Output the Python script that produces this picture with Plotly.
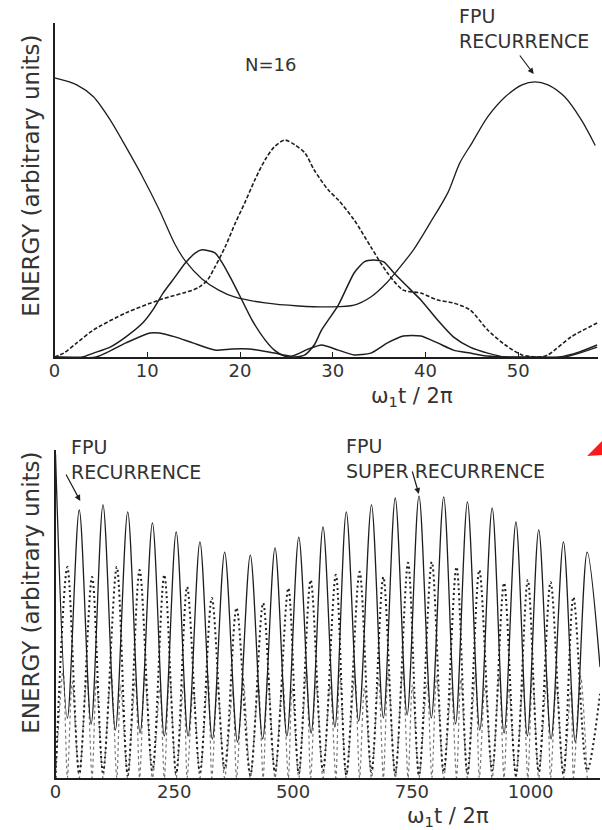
import plotly.graph_objects as go

# ---------------- upper panel: N = 16, first recurrence ----------------
mode1_t = [0, 2.4, 4.2, 6.0, 7.7, 9.5, 11.3, 13.0, 14.1, 15.9, 17.7, 19.4, 22.7, 26.3, 29.8,
           32.3, 34.1, 35.9, 37.0, 38.7, 40.5, 42.4, 43.7, 45.0, 46.7, 48.6, 50.4, 51.8,
           53.2, 55.0, 56.8, 58.3]
mode1_e = [93, 90.7, 86.7, 79, 70, 60, 49, 37.5, 32, 26, 22.3, 20, 18, 17, 16.7,
           17.3, 20, 25, 29, 35.7, 44.7, 54.7, 64.7, 71.3, 80, 86.7, 90.7, 91.7,
           90.7, 86.7, 79, 70.5]

mode2_t = [0, 1.0, 2.4, 4.2, 7.7, 11.3, 14.9, 15.6, 16.5, 17.3, 18.4, 19.5, 20.5, 21.6, 22.7,
           23.7, 24.8, 25.9, 27.0, 28.0, 29.5, 30.6, 32.3, 34.1, 35.9, 37.6, 39.5, 41.3,
           43.0, 44.8, 46.7, 48.6, 50.4, 52.3, 53.2, 55.7, 58.5]
mode2_e = [0, 1.3, 4.7, 9, 14.7, 19, 22.3, 23.3, 25.7, 30, 36.7, 44.7, 51.3, 59, 65.7,
           70, 72.3, 70.7, 68, 62.3, 55.7, 52.3, 45.7, 36.7, 28, 22.3, 21.3, 19,
           18, 15.7, 9, 4, 0.7, 0, 0.7, 6.7, 11.3]

mode3_t = [0, 3.0, 4.2, 6.0, 7.7, 9.5, 10.6, 11.7, 13.0, 14.1, 15.2, 15.9, 17.3, 18.1, 19.1,
           20.2, 21.3, 22.7, 23.7, 24.8, 25.9, 27.0, 28.0, 28.8, 30.6, 32.3, 33.4, 34.4,
           35.5, 36.6, 38.1, 39.5, 41.3, 43.0, 44.8, 46.7, 48.6, 52.0, 54.4, 56.6, 58.5]
mode3_e = [0, 0, 1.3, 3.3, 6.7, 11.3, 15.7, 21.3, 26.7, 31.3, 34.7, 35.7, 34.7, 31.3, 25.7,
           19, 12.3, 5.7, 2.3, 0.3, 0, 0.7, 4, 9, 17.3, 28, 31.7, 32.3,
           31.7, 28, 23.3, 19, 12.3, 6.7, 3.3, 1.3, 0, 0, 0, 1.7, 4]

mode4_t = [0, 4.5, 7.7, 10.3, 11.3, 13.0, 14.9, 17.3, 19.1, 21.0, 23.7, 25.6, 27.4, 28.8,
           30.6, 32.3, 34.1, 35.9, 37.6, 39.5, 41.3, 43.0, 44.8, 46.7, 48.6, 55.0, 58.5]
mode4_e = [0, 0, 4.7, 8, 8, 6.7, 4.7, 2.3, 2.7, 2.7, 1.3, 0.3, 2.7, 4,
           2.3, 0.7, 1.3, 4.7, 7, 7, 4.7, 2.3, 1.3, 0.3, 0, 0, 3.3]

top_ticks = [0, 10, 20, 30, 40, 50]

# ---------------- lower panel: long run, super recurrence ----------------
m1_start = (0, 108)
m1_end = (1146, 37)
m1_peak_t = [50, 100, 152, 204, 254, 304, 356, 410, 462, 512, 563, 612, 665, 715, 765,
             817, 867, 919, 969, 1017, 1069, 1119]
m1_peak_e = [89.3, 91, 88.7, 85, 82, 78.7, 75.3, 74.3, 76.7, 80.3, 83.7, 88.7, 91, 93.3, 94,
             93.7, 92, 90, 85.3, 82.7, 78.7, 75.3]
m1_low_t = [25, 75, 126, 178, 229, 279, 330, 383, 436, 487, 538, 588, 638, 690, 740,
            791, 842, 893, 944, 993, 1043, 1094]
m1_low_e = [20, 18, 16, 15, 14, 14, 13, 12, 13, 14, 15, 17, 19, 20, 21,
            20, 18, 16, 15, 14, 13, 12]

m2_peak_t = [25, 77, 129, 177, 229, 277, 329, 381, 437, 490, 537, 590, 640, 690, 742,
             792, 844, 892, 944, 994, 1042, 1090]
m2_peak_e = [70.3, 67, 70.3, 69.3, 67.7, 63.7, 60, 56.7, 58.3, 63.3, 66, 67.7, 68.7, 67, 71.7,
             72, 70.3, 69.3, 65, 66, 65.3, 60.3]
m2_low_e = [1.5, 2, 1, 2.5, 1.5, 2, 3, 1, 2, 1.5, 2.5, 1, 2, 1.5, 1,
            2, 1.5, 2.5, 1, 2, 1.5, 2.5]
m2_end = (1146, 28)

m3_peak_t = [16, 35, 66, 86, 117, 137, 168, 188, 220, 240, 270, 290, 321, 341, 373,
             395, 427, 447, 478, 498, 528, 548, 578, 598, 630, 650, 680, 700, 731, 751,
             782, 802, 833, 853, 884, 904, 934, 954, 984, 1004, 1034, 1054, 1085, 1105]
m3_peak_e = [36, 32, 34, 33, 35, 31, 33, 34, 30, 35, 32, 30, 34, 31, 29,
             33, 31, 35, 33, 30, 35, 32, 31, 36, 34, 30, 33, 35, 36, 31,
             32, 34, 30, 33, 35, 31, 34, 30, 32, 35, 33, 31, 30, 34]

bottom_ticks = [0, 250, 500, 750, 1000]

# ---------------- build series ----------------
lo_m1 = sorted([m1_start, m1_end] + list(zip(m1_peak_t, m1_peak_e)) + list(zip(m1_low_t, m1_low_e)))
lo_m2 = sorted([(0, 0), m2_end] + list(zip(m2_peak_t, m2_peak_e)) + list(zip(m1_peak_t, m2_low_e)))
lo_m3 = sorted([(0, 0)] + list(zip(m3_peak_t, m3_peak_e))
               + [(t, 0) for t in m1_peak_t] + [(t, 0) for t in m2_peak_t])

INK = "#1e1e1e"
TXT = "#333333"
FONT = "DejaVu Sans"
W, H = 602, 830


def fx(p):
    return p / W


def fy(p):
    return 1 - p / H


def label(text, x, y, size=20, xanchor="center", angle=0):
    return dict(text=text, x=fx(x), y=fy(y), xref="paper", yref="paper",
                xanchor=xanchor, yanchor="middle", textangle=angle, showarrow=False,
                align="left", font=dict(family=FONT, size=size, color=TXT))


def pointer(x_tip, y_tip, x_tail, y_tail):
    return dict(text="", x=fx(x_tip), y=fy(y_tip), xref="paper", yref="paper",
                ax=x_tail - x_tip, ay=y_tail - y_tip, showarrow=True,
                arrowhead=2, arrowsize=1, arrowwidth=1.2, arrowcolor=INK)


fig = go.Figure()

# upper panel curves
fig.add_trace(go.Scatter(x=mode1_t, y=mode1_e, mode="lines", xaxis="x", yaxis="y",
                         line=dict(color=INK, width=1.3, shape="spline", smoothing=0.8)))
fig.add_trace(go.Scatter(x=mode2_t, y=mode2_e, mode="lines", xaxis="x", yaxis="y",
                         line=dict(color=INK, width=1.6, shape="spline", smoothing=0.8,
                                   dash="4px,2px")))
fig.add_trace(go.Scatter(x=mode3_t, y=mode3_e, mode="lines", xaxis="x", yaxis="y",
                         line=dict(color=INK, width=1.5, shape="spline", smoothing=0.6)))
fig.add_trace(go.Scatter(x=mode4_t, y=mode4_e, mode="lines", xaxis="x", yaxis="y",
                         line=dict(color=INK, width=1.5, shape="spline", smoothing=0.6)))

# lower panel curves
fig.add_trace(go.Scatter(x=[p[0] for p in lo_m3], y=[p[1] for p in lo_m3], mode="lines",
                         xaxis="x2", yaxis="y2",
                         line=dict(color="#777777", width=1.2, shape="spline", smoothing=0.8,
                                   dash="dot")))
fig.add_trace(go.Scatter(x=[p[0] for p in lo_m2], y=[p[1] for p in lo_m2], mode="lines",
                         xaxis="x2", yaxis="y2",
                         line=dict(color=INK, width=2.0, shape="spline", smoothing=0.9,
                                   dash="2px,3px")))
fig.add_trace(go.Scatter(x=[p[0] for p in lo_m1], y=[p[1] for p in lo_m1], mode="lines",
                         xaxis="x2", yaxis="y2",
                         line=dict(color=INK, width=1.3, shape="spline", smoothing=0.9)))

axis_common = dict(showgrid=False, zeroline=False, showline=True, linecolor=INK, linewidth=1.5,
                   tickfont=dict(family=FONT, size=18, color=TXT))

annotations = [
    # upper panel
    label("N=16", 267, 64, size=18),
    label("FPU<br>RECURRENCE", 456, 29, size=19, xanchor="left"),
    pointer(533, 74, 518, 54),
    label("ENERGY (arbitrary units)", 25, 176, size=23, angle=-90),
    label("ω<sub>1</sub>t / 2π", 410, 397, size=21),
    # lower panel
    label("FPU<br>RECURRENCE", 64, 459, size=19, xanchor="left"),
    pointer(75, 501, 60, 473),
    label("FPU<br>SUPER RECURRENCE", 341, 458, size=19, xanchor="left"),
    pointer(417, 494, 410, 470),
    label("ENERGY (arbitrary units)", 25, 593, size=23, angle=-90),
    label("ω<sub>1</sub>t / 2π", 446, 817, size=21),
]

fig.update_layout(
    width=W, height=H,
    margin=dict(l=0, r=0, t=0, b=0),
    paper_bgcolor="white", plot_bgcolor="white",
    showlegend=False,
    xaxis=dict(domain=[fx(49), fx(598)], range=[0, 58.6], tickvals=top_ticks,
               ticks="inside", ticklen=5, tickcolor=INK, anchor="y",
               ticklabelstandoff=-3, **axis_common),
    yaxis=dict(domain=[fy(357), fy(23)], range=[0, 111.3], showticklabels=False,
               ticks="", anchor="x", **axis_common),
    xaxis2=dict(domain=[fx(50), fx(600)], range=[0, 1146], tickvals=bottom_ticks,
                ticks="", anchor="y2", ticklabelstandoff=-3, **axis_common),
    yaxis2=dict(domain=[fy(778), fy(450)], range=[0, 109.3], showticklabels=False,
                ticks="", anchor="x2", **axis_common),
    annotations=annotations,
    shapes=[dict(type="path", xref="paper", yref="paper",
                 path=f"M {fx(587)},{fy(456)} L {fx(602)},{fy(441)} L {fx(602)},{fy(455)} Z",
                 fillcolor="#ff1a1a", line=dict(width=0))],
)

fig.write_html("out.html")
